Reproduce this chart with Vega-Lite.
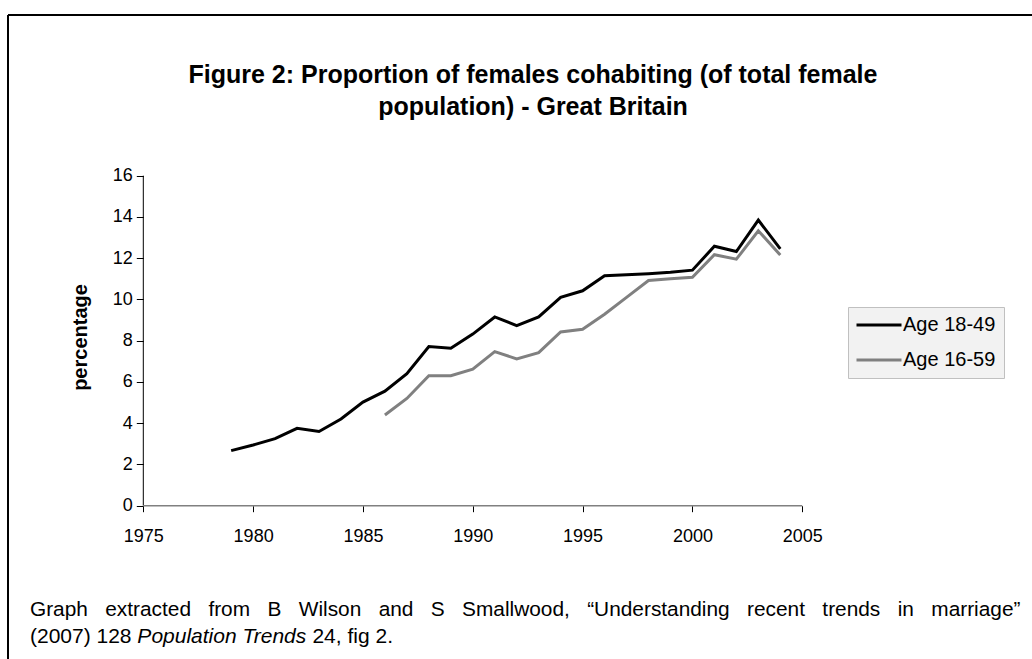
{
  "$schema": "https://vega.github.io/schema/vega-lite/v6.json",
  "width": 1024,
  "height": 644,
  "autosize": {"type": "none"},
  "padding": {"left": 8, "top": 15, "right": 0, "bottom": 0},
  "background": "white",
  "config": {"view": {"stroke": null}, "font": "Liberation Sans"},
  "title": {
    "text": ["Figure 2: Proportion of females cohabiting (of total female", "population) - Great Britain"],
    "font": "Liberation Sans",
    "fontSize": 25,
    "fontWeight": "bold",
    "color": "#000000",
    "anchor": "middle",
    "frame": "group",
    "baseline": "bottom",
    "lineHeight": 32,
    "offset": -131,
    "dx": 13
  },
  "datasets": {
    "series": [
      {"year": 1979, "value": 2.67, "series": "Age 18-49"},
      {"year": 1980, "value": 2.94, "series": "Age 18-49"},
      {"year": 1981, "value": 3.25, "series": "Age 18-49"},
      {"year": 1982, "value": 3.75, "series": "Age 18-49"},
      {"year": 1983, "value": 3.6, "series": "Age 18-49"},
      {"year": 1984, "value": 4.2, "series": "Age 18-49"},
      {"year": 1985, "value": 5.02, "series": "Age 18-49"},
      {"year": 1986, "value": 5.55, "series": "Age 18-49"},
      {"year": 1987, "value": 6.4, "series": "Age 18-49"},
      {"year": 1988, "value": 7.72, "series": "Age 18-49"},
      {"year": 1989, "value": 7.63, "series": "Age 18-49"},
      {"year": 1990, "value": 8.32, "series": "Age 18-49"},
      {"year": 1991, "value": 9.15, "series": "Age 18-49"},
      {"year": 1992, "value": 8.73, "series": "Age 18-49"},
      {"year": 1993, "value": 9.15, "series": "Age 18-49"},
      {"year": 1994, "value": 10.1, "series": "Age 18-49"},
      {"year": 1995, "value": 10.42, "series": "Age 18-49"},
      {"year": 1996, "value": 11.15, "series": "Age 18-49"},
      {"year": 1997, "value": 11.2, "series": "Age 18-49"},
      {"year": 1998, "value": 11.25, "series": "Age 18-49"},
      {"year": 1999, "value": 11.32, "series": "Age 18-49"},
      {"year": 2000, "value": 11.42, "series": "Age 18-49"},
      {"year": 2001, "value": 12.58, "series": "Age 18-49"},
      {"year": 2002, "value": 12.32, "series": "Age 18-49"},
      {"year": 2003, "value": 13.85, "series": "Age 18-49"},
      {"year": 2004, "value": 12.45, "series": "Age 18-49"},
      {"year": 1986, "value": 4.4, "series": "Age 16-59"},
      {"year": 1987, "value": 5.2, "series": "Age 16-59"},
      {"year": 1988, "value": 6.3, "series": "Age 16-59"},
      {"year": 1989, "value": 6.3, "series": "Age 16-59"},
      {"year": 1990, "value": 6.62, "series": "Age 16-59"},
      {"year": 1991, "value": 7.47, "series": "Age 16-59"},
      {"year": 1992, "value": 7.12, "series": "Age 16-59"},
      {"year": 1993, "value": 7.42, "series": "Age 16-59"},
      {"year": 1994, "value": 8.42, "series": "Age 16-59"},
      {"year": 1995, "value": 8.55, "series": "Age 16-59"},
      {"year": 1996, "value": 9.28, "series": "Age 16-59"},
      {"year": 1997, "value": 10.1, "series": "Age 16-59"},
      {"year": 1998, "value": 10.92, "series": "Age 16-59"},
      {"year": 1999, "value": 11.0, "series": "Age 16-59"},
      {"year": 2000, "value": 11.07, "series": "Age 16-59"},
      {"year": 2001, "value": 12.17, "series": "Age 16-59"},
      {"year": 2002, "value": 11.95, "series": "Age 16-59"},
      {"year": 2003, "value": 13.33, "series": "Age 16-59"},
      {"year": 2004, "value": 12.15, "series": "Age 16-59"}
    ],
    "one": [{}]
  },
  "layer": [
    {
      "data": {"name": "series"},
      "mark": {"type": "line", "strokeWidth": 3},
      "encoding": {
        "x": {
          "field": "year",
          "type": "quantitative",
          "scale": {"domain": [1968.84, 2015.46], "nice": false, "zero": false},
          "axis": {
            "title": null,
            "values": [1975, 1980, 1985, 1990, 1995, 2000, 2005],
            "format": "d",
            "offset": -153.3,
            "domain": false,
            "grid": false,
            "ticks": true,
            "tickColor": "#000000",
            "tickSize": 6,
            "labelFont": "Liberation Sans",
            "labelFontSize": 18,
            "labelColor": "#000000",
            "labelPadding": 16,
            "labelFlush": false,
            "labelOverlap": false
          }
        },
        "y": {
          "field": "value",
          "type": "quantitative",
          "scale": {"domain": [-7.433, 23.79], "nice": false, "zero": false},
          "axis": {
            "title": "percentage",
            "titleFont": "Liberation Sans",
            "titleFontSize": 20,
            "titleFontWeight": "bold",
            "titleColor": "#000000",
            "titlePadding": 22,
            "values": [0, 2, 4, 6, 8, 10, 12, 14, 16],
            "offset": -135.3,
            "domain": false,
            "grid": false,
            "tickColor": "#000000",
            "tickSize": 7,
            "labelFont": "Liberation Sans",
            "labelFontSize": 18,
            "labelColor": "#000000",
            "labelPadding": 4,
            "labelFlush": false,
            "labelOverlap": false
          }
        },
        "color": {
          "field": "series",
          "type": "nominal",
          "scale": {"domain": ["Age 18-49", "Age 16-59"], "range": ["#000000", "#808080"]},
          "legend": {
            "title": null,
            "orient": "none",
            "legendX": 840,
            "legendY": 292,
            "symbolType": "M-3,0H3",
            "symbolSize": 225,
            "symbolStrokeWidth": 3,
            "symbolOffset": 13,
            "labelFont": "Liberation Sans",
            "labelFontSize": 20,
            "labelColor": "#000000",
            "labelOffset": 14,
            "padding": 8,
            "rowPadding": 15,
            "fillColor": "#f2f2f2",
            "strokeColor": "#c0c0c0"
          }
        }
      }
    },
    {
      "data": {"name": "one"},
      "mark": {"type": "rule", "color": "#000000", "strokeWidth": 2},
      "encoding": {"x": {"datum": 1968.84}, "x2": {"datum": 2015.46}, "y": {"datum": 23.79}}
    },
    {
      "data": {"name": "one"},
      "mark": {"type": "rule", "color": "#000000", "strokeWidth": 2},
      "encoding": {"x": {"datum": 1968.84}, "y": {"datum": -7.433}, "y2": {"datum": 23.79}}
    },
    {
      "data": {"name": "one"},
      "mark": {"type": "rule", "color": "#000000", "strokeWidth": 1},
      "encoding": {"x": {"datum": 1975}, "y": {"datum": 0}, "y2": {"datum": 16}}
    },
    {
      "data": {"name": "one"},
      "mark": {"type": "rule", "color": "#808080", "strokeWidth": 1.5},
      "encoding": {"x": {"datum": 1975}, "x2": {"datum": 2005}, "y": {"datum": 0}}
    },
    {
      "data": {"name": "one"},
      "mark": {"type": "text", "align": "left", "baseline": "alphabetic", "font": "Liberation Sans", "fontSize": 20.85, "color": "#000000", "text": "Graph \u00a0\u00a0extracted \u00a0\u00a0from \u00a0\u00a0B \u00a0\u00a0Wilson \u00a0\u00a0and \u00a0\u00a0S \u00a0\u00a0Smallwood, \u00a0\u00a0“Understanding \u00a0\u00a0recent \u00a0\u00a0trends \u00a0\u00a0in \u00a0\u00a0marriage”"},
      "encoding": {"x": {"datum": 1969.84}, "y": {"datum": -5.348}}
    },
    {
      "data": {"name": "one"},
      "mark": {"type": "text", "align": "left", "baseline": "alphabetic", "font": "Liberation Sans", "fontSize": 21, "color": "#000000", "text": "(2007) 128"},
      "encoding": {"x": {"datum": 1969.84}, "y": {"datum": -6.657}}
    },
    {
      "data": {"name": "one"},
      "mark": {"type": "text", "align": "left", "baseline": "alphabetic", "font": "Liberation Sans", "fontSize": 21, "fontStyle": "italic", "color": "#000000", "text": "Population Trends"},
      "encoding": {"x": {"datum": 1974.73}, "y": {"datum": -6.657}}
    },
    {
      "data": {"name": "one"},
      "mark": {"type": "text", "align": "left", "baseline": "alphabetic", "font": "Liberation Sans", "fontSize": 21, "color": "#000000", "text": "24, fig 2."},
      "encoding": {"x": {"datum": 1982.7}, "y": {"datum": -6.657}}
    }
  ]
}
